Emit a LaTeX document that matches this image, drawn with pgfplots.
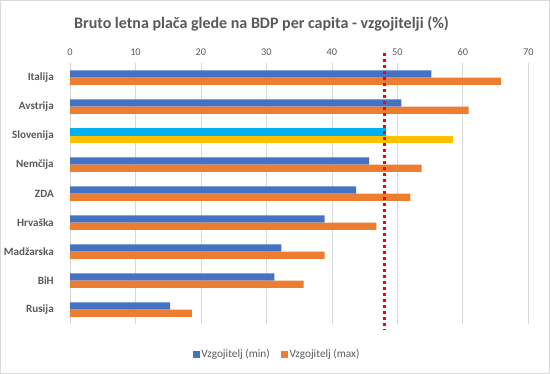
\documentclass[border=0pt]{standalone}
\usepackage{pgfplots}
\pgfplotsset{compat=1.18}
\usepackage{fontspec}
\setmainfont{Carlito}
\definecolor{cmin}{HTML}{4472C4}
\definecolor{cmax}{HTML}{ED7D31}
\definecolor{smin}{HTML}{00B0F0}
\definecolor{smax}{HTML}{FFC000}
\definecolor{txt}{HTML}{595959}
\definecolor{gridc}{HTML}{D9D9D9}
\begin{document}
\begin{tikzpicture}
\useasboundingbox (0,0) rectangle (550bp,374bp);
\draw[color=gridc] (0.5bp,0.5bp) rectangle (549.5bp,373.5bp);
\begin{axis}[
  at={(70bp,50bp)}, anchor=south west,
  width=458.3bp, height=261bp, scale only axis,
  xbar, bar width=0.25,
  xmin=0, xmax=70, ymin=-0.5, ymax=8.5,
  y dir=reverse,
  clip=false,
  xtick={0,10,...,70},
  xticklabel pos=top,
  xmajorgrids, grid style={color=gridc, line width=0.75bp},
  axis line style={draw=none},
  tick style={draw=none},
  ytick={0,...,8},
  yticklabels={Italija,Avstrija,Slovenija,Nemčija,ZDA,Hrvaška,Madžarska,BiH,Rusija},
  yticklabel style={font=\fontsize{11.1bp}{13bp}\selectfont\bfseries, text=txt, xshift=-8.5bp},
  xticklabel style={font=\fontsize{10.3bp}{12bp}\selectfont, text=txt, yshift=4bp},
  /pgf/number format/assume math mode=true,
  legend columns=2,
  legend style={at={(0.452,-0.117)}, anchor=center, draw=none, fill=none,
    font=\fontsize{11.3bp}{13bp}\selectfont, text=txt,
    nodes={font=\fontsize{11.3bp}{13bp}\selectfont, text=txt, inner xsep=1.5bp},
    /tikz/every even column/.append style={column sep=10bp}},
  legend image code/.code={\fill[#1] (0bp,-3.3bp) rectangle (6.7bp,3.3bp);},
]
\addplot[fill=cmin, draw=none, bar shift=-0.125] coordinates {
 (55.2,0) (50.6,1) (45.7,3) (43.7,4) (38.9,5) (32.3,6) (31.2,7) (15.3,8)};
\addlegendentry{Vzgojitelj (min)}
\addplot[fill=cmax, draw=none, bar shift=0.125] coordinates {
 (65.8,0) (60.9,1) (53.7,3) (52.0,4) (46.8,5) (38.9,6) (35.7,7) (18.6,8)};
\addlegendentry{Vzgojitelj (max)}
\addplot[fill=smin, draw=none, bar shift=-0.125, forget plot] coordinates {(48.3,2)};
\addplot[fill=smax, draw=none, bar shift=0.125, forget plot] coordinates {(58.5,2)};
\addplot[sharp plot, draw=red, line width=3bp, dash pattern=on 3bp off 3bp, forget plot]
  coordinates {(48.0,-0.845) (48.0,8.71)};
\end{axis}
\node[font=\fontsize{16bp}{19bp}\selectfont\bfseries, text=txt] at (261.5bp,350bp) {Bruto letna plača glede na BDP per capita - vzgojitelji (\%)};
\end{tikzpicture}
\end{document}
